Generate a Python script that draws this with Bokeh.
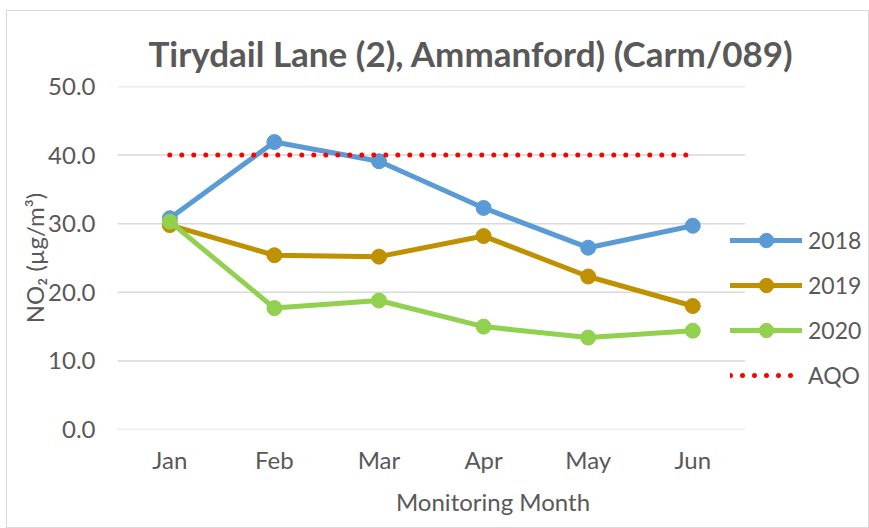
from bokeh.plotting import figure
from bokeh.models import (Range1d, FixedTicker, NumeralTickFormatter,
                          Legend, LegendItem, Title)
from bokeh.embed import file_html
from bokeh.resources import INLINE

months = ["Jan", "Feb", "Mar", "Apr", "May", "Jun"]
no2_2018 = [30.8, 41.9, 39.1, 32.3, 26.5, 29.7]
no2_2019 = [29.8, 25.4, 25.2, 28.2, 22.3, 18.0]
no2_2020 = [30.3, 17.7, 18.8, 15.0, 13.4, 14.4]
aqo = [40.0, 40.0, 40.0, 40.0, 40.0, 40.0]
y_ticks = [0, 10, 20, 30, 40, 50]

FONT = "Lato"
TXT = "#595959"
FS = "24px"

xi = list(range(len(months)))

p = figure(width=861, height=516, output_backend="svg", toolbar_location=None,
           x_range=Range1d(-0.5, 6.68), y_range=Range1d(0, 50),
           min_border_left=110, min_border_right=0, min_border_top=75, min_border_bottom=98)
p.margin = (11, 0, 0, 7)
p.styles = {"outline": "1px solid #d9d9d9"}
p.outline_line_color = None
p.background_fill_color = "white"
p.border_fill_color = "white"

t = Title(text="Tirydail Lane (2), Ammanford) (Carm/089)", text_font=FONT,
          text_font_size="35px", text_font_style="bold", text_color=TXT,
          text_line_height=0.8, align="left", offset=31, standoff=26)
p.add_layout(t, "above")

p.xgrid.grid_line_color = None
p.ygrid.grid_line_color = None

# horizontal gridlines spanning the category bands only
p.segment(x0=[-0.5] * len(y_ticks), x1=[len(months) - 0.5] * len(y_ticks),
          y0=y_ticks, y1=y_ticks, line_color="#d9d9d9", line_width=1.5)

p.yaxis.ticker = FixedTicker(ticks=y_ticks)
p.yaxis.formatter = NumeralTickFormatter(format="0.0")
p.xaxis.ticker = FixedTicker(ticks=xi)
p.xaxis.major_label_overrides = {i: m for i, m in zip(xi, months)}
for ax in (p.xaxis[0], p.yaxis[0]):
    ax.axis_line_color = None
    ax.major_tick_line_color = None
    ax.minor_tick_line_color = None
    ax.major_label_text_font = FONT
    ax.major_label_text_font_size = FS
    ax.major_label_text_color = TXT
    ax.axis_label_text_font = FONT
    ax.axis_label_text_font_size = FS
    ax.axis_label_text_color = TXT
    ax.axis_label_text_font_style = "normal"
    ax.major_tick_out = 0
    ax.major_tick_in = 0

p.yaxis.major_label_standoff = 22
p.yaxis.axis_label = "NO\u2082 (\u00b5g/m\u00b3)"
p.yaxis.axis_label_standoff = -4
p.xaxis.major_label_standoff = 15
p.xaxis.axis_label = "Monitoring Month"
p.xaxis.axis_label_standoff = 10

series = [("2018", no2_2018, "#5B9BD5"), ("2019", no2_2019, "#BF9000"), ("2020", no2_2020, "#92D050")]
items = []
for name, vals, col in series:
    l = p.line(xi, vals, line_color=col, line_width=5, line_join="round", line_cap="round")
    s = p.scatter(xi, vals, size=15, fill_color=col, line_color=col)
    items.append(LegendItem(label=name, renderers=[l, s]))

a = p.line(xi, aqo, line_color="#FF0000", line_width=5, line_dash="0 12", line_cap="round")
items.append(LegendItem(label="AQO", renderers=[a]))

legend = Legend(items=items, location=(613, 36), glyph_width=72, glyph_height=36,
                label_height=20, spacing=9, label_standoff=6, padding=0, margin=0,
                border_line_color=None, background_fill_alpha=0,
                label_text_font=FONT, label_text_font_size="23px", label_text_color=TXT)
p.add_layout(legend, "center")

open("out.html", "w").write(file_html(p, INLINE))
